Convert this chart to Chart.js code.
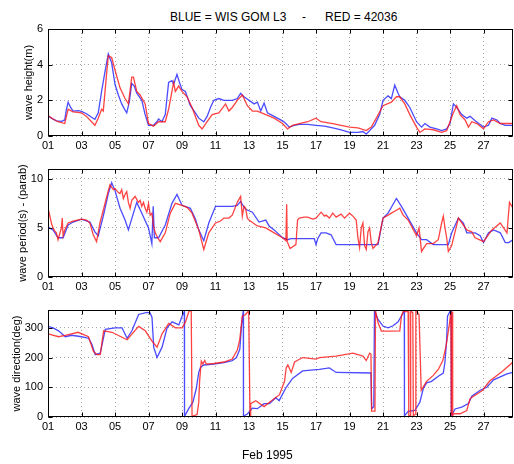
<!DOCTYPE html>
<html>
<head>
<meta charset="utf-8">
<script src="https://cdn.jsdelivr.net/npm/chart.js@4.4.0/dist/chart.umd.min.js"></script>
<style>
  body { margin: 0; background: #fff; }
  #wrap { position: relative; width: 514px; height: 464px; overflow: hidden; font-family: 'Liberation Sans', Arial, sans-serif; }
  canvas { position: absolute; left: 0; top: 0; }
  .txt { position: absolute; font-size: 12px; line-height: 14px; white-space: pre; color: #000; }
</style>
</head>
<body>
<div id="wrap">
  <div class="txt" style="left:170px; top:10px;">BLUE = WIS GOM L3</div>
  <div class="txt" style="left:302px; top:10px;">-</div>
  <div class="txt" style="left:325px; top:10px;">RED = 42036</div>
  <canvas id="c1" width="514" height="464"></canvas>
  <canvas id="c2" width="514" height="464"></canvas>
  <canvas id="c3" width="514" height="464"></canvas>
  <div class="txt" style="left:242px; top:448px;">Feb 1995</div>
</div>
<script>
// tick labels (day of month)
const dayTicks = [1, 3, 5, 7, 9, 11, 13, 15, 17, 19, 21, 23, 25, 27];
const heightTicks = [0, 2, 4, 6];
const periodTicks = [0, 5, 10];
const dirTicks = [0, 100, 200, 300];

// [day, value] pairs
const heightBlue = [[1.0,1.12],[1.2,1.0],[1.5,0.85],[1.8,0.82],[2.0,0.9],[2.1,1.5],[2.2,1.9],[2.35,1.6],[2.5,1.4],[2.8,1.42],[3.0,1.38],[3.3,1.25],[3.6,1.05],[3.8,0.93],[4.0,1.3],[4.2,2.5],[4.4,3.6],[4.6,4.6],[4.8,4.1],[5.0,2.9],[5.2,2.3],[5.4,1.8],[5.6,1.45],[5.7,1.3],[5.85,1.9],[6.0,2.95],[6.15,2.8],[6.3,2.4],[6.6,2.0],[6.8,1.2],[7.0,0.6],[7.3,0.6],[7.5,0.8],[7.6,0.95],[7.8,0.8],[8.0,1.2],[8.2,3.0],[8.4,3.1],[8.5,2.9],[8.7,3.46],[8.85,3.0],[9.0,2.6],[9.2,2.5],[9.5,1.7],[9.8,1.3],[10.0,1.0],[10.3,0.8],[10.5,1.1],[10.7,1.6],[10.9,2.0],[11.2,2.1],[11.5,2.0],[12.0,2.0],[12.3,2.1],[12.5,2.4],[12.7,2.2],[13.0,2.0],[13.3,1.8],[13.5,1.9],[13.7,1.4],[13.9,1.85],[14.1,1.3],[14.5,1.1],[15.0,0.85],[15.2,0.7],[15.4,0.5],[15.7,0.6],[16.0,0.65],[16.5,0.65],[17.0,0.6],[17.5,0.55],[18.0,0.45],[18.5,0.35],[19.0,0.2],[19.5,0.2],[19.8,0.25],[20.0,0.1],[20.2,0.3],[20.5,0.6],[20.8,1.2],[21.0,2.0],[21.3,2.25],[21.5,2.1],[21.7,2.85],[21.9,2.4],[22.0,2.2],[22.3,2.0],[22.6,1.6],[23.0,0.8],[23.3,0.5],[23.5,0.7],[23.8,0.5],[24.2,0.4],[24.5,0.3],[24.8,0.4],[25.0,0.7],[25.2,1.8],[25.4,1.6],[25.7,1.2],[26.0,1.0],[26.2,1.1],[26.5,0.85],[26.8,0.65],[27.0,0.5],[27.3,0.6],[27.5,1.0],[27.8,0.9],[28.0,0.7],[28.3,0.6],[28.76,0.6]];
const heightRed = [[1.0,1.15],[1.3,0.95],[1.6,0.8],[2.0,0.7],[2.2,1.5],[2.5,1.35],[3.0,1.3],[3.3,1.1],[3.6,0.8],[3.8,0.6],[4.0,1.0],[4.2,1.5],[4.3,1.4],[4.5,3.5],[4.6,4.5],[4.8,4.4],[5.0,3.7],[5.3,2.7],[5.6,2.1],[5.8,1.8],[6.0,3.3],[6.1,3.3],[6.3,2.5],[6.5,2.3],[6.8,1.8],[7.0,0.7],[7.3,0.55],[7.6,0.8],[8.0,0.8],[8.2,1.5],[8.5,3.0],[8.6,2.5],[8.8,2.8],[9.0,2.5],[9.3,2.2],[9.6,1.6],[10.0,0.6],[10.2,0.4],[10.5,0.8],[10.8,1.2],[11.2,1.3],[11.6,1.8],[11.8,1.4],[12.0,1.6],[12.3,2.0],[12.6,2.3],[12.9,1.7],[13.2,1.4],[13.5,1.4],[14.0,1.2],[14.5,1.0],[15.0,0.7],[15.3,0.4],[15.6,0.6],[16.0,0.7],[16.5,0.8],[17.0,1.0],[17.3,0.8],[18.0,0.7],[18.5,0.6],[19.0,0.5],[19.5,0.45],[20.0,0.3],[20.3,0.5],[20.6,1.0],[21.0,1.7],[21.5,1.9],[21.8,2.2],[22.0,2.2],[22.3,1.8],[22.6,1.2],[23.0,0.5],[23.2,0.2],[23.5,0.4],[24.0,0.35],[24.5,0.2],[24.8,0.3],[25.2,1.3],[25.4,1.7],[25.6,1.2],[25.9,0.9],[26.1,0.5],[26.3,0.8],[26.6,0.7],[27.0,0.4],[27.3,0.8],[27.6,0.9],[28.0,0.7],[28.3,0.7],[28.76,0.7]];

const periodBlue = [[1.0,5.1],[1.3,4.8],[1.6,4.0],[1.9,4.0],[2.2,5.3],[2.5,5.6],[3.0,5.9],[3.5,5.6],[3.8,4.6],[4.0,4.2],[4.3,6.2],[4.6,8.5],[4.8,9.6],[5.0,8.8],[5.3,7.0],[5.6,5.8],[5.8,4.8],[6.1,6.5],[6.3,7.6],[6.6,6.5],[7.0,5.0],[7.2,3.4],[7.28,7.2],[7.35,4.0],[7.6,4.0],[8.0,5.3],[8.4,7.5],[8.7,8.4],[9.0,7.3],[9.5,7.0],[9.8,5.9],[10.0,4.8],[10.3,3.7],[10.6,5.5],[11.0,7.2],[11.5,7.2],[12.0,7.2],[12.3,7.3],[12.5,7.7],[12.6,7.4],[12.8,6.9],[13.2,6.6],[13.6,5.6],[14.0,5.8],[14.2,5.2],[14.5,4.8],[15.0,4.0],[15.3,3.8],[15.5,3.9],[16.9,3.9],[17.0,3.3],[17.1,3.9],[17.3,4.5],[17.6,4.5],[17.9,4.3],[18.2,3.3],[20.7,3.3],[21.0,6.0],[21.3,6.5],[21.5,7.1],[21.8,8.0],[22.1,7.2],[22.5,6.0],[23.0,4.5],[23.3,3.8],[23.6,3.8],[24.0,3.3],[24.9,3.3],[25.1,4.5],[25.5,6.0],[25.8,5.5],[26.0,4.5],[26.5,4.5],[26.8,4.2],[27.0,3.5],[27.3,4.5],[27.6,4.8],[28.0,4.5],[28.3,3.5],[28.5,3.5],[28.76,3.8]];
const periodRed = [[1.0,7.0],[1.1,6.3],[1.2,5.5],[1.3,5.0],[1.4,4.7],[1.5,4.5],[1.6,3.8],[1.7,4.4],[1.8,5.0],[1.85,6.0],[1.9,4.2],[2.0,4.8],[2.2,5.5],[2.5,5.7],[3.0,5.9],[3.3,5.8],[3.5,5.5],[3.7,4.3],[3.9,3.6],[4.1,5.5],[4.3,6.8],[4.6,8.8],[4.7,9.4],[4.9,8.9],[5.0,9.0],[5.2,8.6],[5.3,8.5],[5.4,8.9],[5.5,8.0],[5.6,8.4],[5.7,8.7],[5.8,7.6],[5.9,7.0],[6.0,7.8],[6.2,8.2],[6.4,7.6],[6.5,7.8],[6.6,7.2],[6.7,7.6],[6.8,7.0],[6.9,6.6],[7.0,7.5],[7.1,6.3],[7.2,6.5],[7.3,5.2],[7.4,4.5],[7.55,4.0],[7.7,3.6],[8.0,4.5],[8.3,6.5],[8.6,7.5],[9.0,7.3],[9.3,7.1],[9.6,6.5],[10.0,4.8],[10.3,2.8],[10.6,4.5],[11.0,5.5],[11.3,5.7],[11.5,6.0],[11.8,6.0],[12.0,6.3],[12.3,7.6],[12.5,8.2],[12.6,6.2],[12.7,7.2],[12.8,7.0],[12.9,6.0],[13.0,5.8],[13.5,5.2],[14.0,5.0],[14.5,4.5],[15.0,4.0],[15.2,3.7],[15.25,7.4],[15.28,3.6],[15.45,2.9],[15.8,3.3],[15.9,5.8],[16.0,6.0],[16.3,6.1],[16.5,6.1],[16.8,5.9],[17.0,6.0],[17.3,6.6],[17.5,6.2],[17.6,6.3],[17.8,6.0],[18.0,6.5],[18.2,6.1],[18.5,6.4],[18.7,6.0],[19.0,6.5],[19.2,6.2],[19.4,5.8],[19.5,4.0],[19.6,3.0],[19.7,5.0],[19.8,5.5],[19.9,3.2],[20.0,2.8],[20.1,4.6],[20.2,5.0],[20.3,3.5],[20.4,2.9],[20.7,3.5],[21.0,6.0],[21.5,6.5],[21.8,6.8],[22.0,7.0],[22.2,6.3],[22.5,5.8],[23.0,4.2],[23.15,5.0],[23.3,2.6],[23.6,3.4],[24.0,3.4],[24.3,3.8],[24.5,5.5],[24.6,6.2],[24.7,5.0],[24.8,4.0],[24.9,2.6],[25.1,3.2],[25.5,6.0],[26.0,4.8],[26.3,4.6],[26.5,4.0],[27.0,3.6],[27.5,4.8],[28.0,5.5],[28.2,5.0],[28.4,4.5],[28.55,7.6],[28.76,7.0]];

const dirBlue = [[1.0,305],[1.3,300],[1.63,290],[2.03,270],[2.42,275],[3.0,270],[3.42,265],[3.62,245],[3.82,210],[4.12,215],[4.42,295],[5.0,300],[5.42,300],[5.72,265],[6.01,290],[6.41,345],[6.91,352],[7.1,350],[7.21,335],[7.31,235],[7.51,200],[7.81,235],[8.11,300],[8.41,320],[8.81,310],[9.01,340],[9.14,355],[9.15,2],[9.4,28],[9.65,50],[9.85,95],[10.0,150],[10.1,167],[10.3,175],[10.9,178],[11.5,183],[12.0,190],[12.25,200],[12.45,228],[12.55,305],[12.62,340],[12.66,358],[12.67,3],[12.9,10],[13.2,30],[13.5,28],[13.9,45],[14.22,45],[14.6,65],[14.8,55],[15.22,100],[15.6,130],[16.2,155],[17.2,160],[17.8,165],[18.2,150],[20.28,148],[20.32,28],[20.45,35],[20.49,358],[20.7,328],[21.0,306],[21.3,300],[21.6,307],[21.9,320],[22.1,340],[22.2,350],[22.27,358],[22.28,4],[22.5,19],[22.9,22],[23.2,50],[23.4,95],[23.6,115],[23.9,120],[24.3,137],[24.6,148],[24.7,185],[24.8,261],[24.85,339],[25.0,355],[25.07,358],[25.08,3],[25.3,27],[25.7,33],[26.1,45],[26.3,70],[26.8,90],[27.2,100],[27.6,125],[28.0,135],[28.4,145],[28.76,150]];
const dirRed = [[1.0,280],[1.63,270],[2.03,275],[2.8,285],[3.42,270],[3.72,220],[3.92,210],[4.12,210],[4.32,290],[4.82,285],[5.72,260],[6.41,305],[6.81,290],[7.21,255],[7.51,235],[7.81,280],[8.21,315],[8.61,300],[9.01,300],[9.21,320],[9.41,355],[9.55,360],[9.6,2],[9.9,8],[10.0,50],[10.05,120],[10.15,188],[10.25,178],[10.35,190],[10.45,178],[10.9,180],[11.5,185],[12.0,195],[12.3,225],[12.45,261],[12.6,339],[12.8,345],[12.98,358],[13.06,2],[13.1,45],[13.4,55],[13.9,35],[14.22,50],[14.82,75],[15.12,120],[15.22,165],[15.32,175],[15.52,150],[15.72,185],[16.2,200],[17.0,195],[17.2,200],[18.2,205],[19.2,215],[19.8,205],[20.0,190],[20.2,215],[20.28,212],[20.32,20],[20.52,20],[20.55,358],[20.7,318],[20.9,289],[21.5,289],[22.0,290],[22.1,339],[22.2,355],[22.5,355],[22.54,2],[22.62,5],[22.65,358],[22.78,350],[22.81,3],[22.93,10],[22.96,358],[23.15,345],[23.28,90],[23.6,120],[24.0,140],[24.3,160],[24.57,190],[24.77,240],[24.97,315],[25.05,355],[25.08,5],[25.12,355],[25.16,3],[25.2,11],[25.6,11],[26.0,22],[26.2,62],[26.95,90],[27.35,120],[28.15,155],[28.76,185]];

const BLUE = 'rgba(30, 30, 255, 0.8)';
const RED = 'rgba(255, 20, 20, 0.8)';
const GRID = '#a8a8a8';
const FONT = { family: "'Liberation Sans', Arial, sans-serif", size: 11 };
const DAY_MIN = 1, DAY_MAX = 28.76;
const Y_AXIS_W = 48, X_AXIS_H = 14, H = 464;

// black box with inward ticks on all four sides, MATLAB style
const framePlugin = {
    id: 'frame',
    afterDraw(chart) {
        const { ctx, chartArea: a, scales: { x, y } } = chart;
        const L = Math.round(a.left) + 0.5, R = Math.round(a.right) - 0.5;
        const T = Math.round(a.top) + 0.5, B = Math.round(a.bottom) - 0.5;
        ctx.save();
        ctx.strokeStyle = '#000';
        ctx.lineWidth = 1;
        ctx.strokeRect(L, T, R - L, B - T);
        ctx.beginPath();
        x.ticks.forEach(t => {
            const px = Math.round(x.getPixelForValue(t.value)) + 0.5;
            ctx.moveTo(px, B); ctx.lineTo(px, B - 4);
            ctx.moveTo(px, T); ctx.lineTo(px, T + 4);
        });
        y.ticks.forEach(t => {
            const py = Math.round(y.getPixelForValue(t.value)) + 0.5;
            ctx.moveTo(L, py); ctx.lineTo(L + 4, py);
            ctx.moveTo(R, py); ctx.lineTo(R - 4, py);
        });
        ctx.stroke();
        ctx.restore();
    }
};

const toXY = arr => arr.map(p => ({ x: p[0], y: p[1] }));

function makePanel(id, top, bottom, yMax, yTicks, yTitle, titleX, blue, red) {
    new Chart(document.getElementById(id), {
        type: 'line',
        data: {
            datasets: [
                { data: toXY(red), borderColor: RED, borderWidth: 1.3, pointRadius: 0, tension: 0 },
                { data: toXY(blue), borderColor: BLUE, borderWidth: 1.3, pointRadius: 0, tension: 0 }
            ]
        },
        options: {
            responsive: false,
            animation: false,
            events: [],
            layout: { padding: { top: top, bottom: H - bottom - X_AXIS_H, left: 0, right: 1 } },
            plugins: { legend: { display: false }, tooltip: { enabled: false } },
            scales: {
                x: {
                    type: 'linear',
                    min: DAY_MIN,
                    max: DAY_MAX,
                    afterBuildTicks: s => { s.ticks = dayTicks.map(v => ({ value: v })); },
                    afterFit: s => { s.height = X_AXIS_H; },
                    ticks: {
                        autoSkip: false, maxRotation: 0, padding: 3, color: '#000', font: FONT,
                        callback: v => String(v).padStart(2, '0')
                    },
                    grid: { color: GRID, drawTicks: false },
                    border: { display: false, dash: [1, 3] }
                },
                y: {
                    min: 0,
                    max: yMax,
                    afterBuildTicks: s => { s.ticks = yTicks.map(v => ({ value: v })); },
                    afterFit: s => { s.width = Y_AXIS_W; },
                    ticks: { padding: 5, color: '#000', font: FONT },
                    grid: { color: GRID, drawTicks: false },
                    border: { display: false, dash: [1, 3] },
                    title: {
                        display: true, text: yTitle, color: '#000', font: FONT,
                        padding: { top: titleX - 6.6, bottom: 0 }
                    }
                }
            }
        },
        plugins: [framePlugin]
    });
}

makePanel('c1', 29, 136, 6, heightTicks, 'wave height(m)', 29, heightBlue, heightRed);
makePanel('c2', 169, 277, 11, periodTicks, 'wave period(s) - (parab)', 23, periodBlue, periodRed);
makePanel('c3', 310, 417, 360, dirTicks, 'wave direction(deg)', 17, dirBlue, dirRed);
</script>
</body>
</html>
